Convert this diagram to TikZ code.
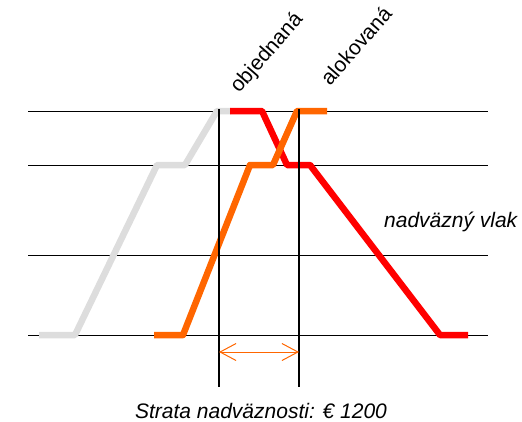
\documentclass[tikz,border=0pt]{standalone}
\usepackage{fontspec}
\setmainfont{Liberation Sans}
\usetikzlibrary{arrows.meta}
\definecolor{cgray}{HTML}{DDDDDD}
\definecolor{corange}{HTML}{FF6600}
\definecolor{cred}{HTML}{FF0000}
\tikzset{
  grid/.style={black,line width=1pt},
  vline/.style={black,line width=1.1pt},
  curve/.style={line width=6.5pt,line join=round},
  lbl/.style={font=\fontsize{21}{25}\selectfont,inner sep=0pt},
  ilbl/.style={lbl,font=\fontsize{21}{25}\selectfont\itshape},
}
\begin{document}
\begin{tikzpicture}[x=1pt,y=-1pt]
\useasboundingbox (0,0) rectangle (522,421);
% horizontal lines
\coordinate (h1l) at (28,111); \coordinate (h1r) at (488,111);
\coordinate (h2l) at (28,165); \coordinate (h2r) at (488,165);
\coordinate (h3l) at (28,255); \coordinate (h3r) at (488,255);
\coordinate (h4l) at (28,335); \coordinate (h4r) at (488,335);
\draw[grid] (h1l) -- (h1r);
\draw[grid] (h2l) -- (h2r);
\draw[grid] (h3l) -- (h3r);
\draw[grid] (h4l) -- (h4r);
% gray
\draw[curve,cgray] (39,335) -- (75,335) -- (157,165) -- (185,165) -- (217,111) -- (231,111);
% red
\draw[curve,cred] (230,111) -- (262,111) -- (287,165) -- (310,165) -- (440,335) -- (468,335);
% orange
\draw[curve,corange] (154,335) -- (183,335) -- (250,165) -- (273,165) -- (297,111) -- (327,111);
% vertical lines
\coordinate (v1t) at (219,109); \coordinate (v1b) at (219,387);
\coordinate (v2t) at (299,109); \coordinate (v2b) at (299,387);
\draw[vline] (v1t) -- (v1b);
\draw[vline] (v2t) -- (v2b);
% arrow
\coordinate (a1) at (219,352); \coordinate (a2) at (299,352);
\draw[corange,line width=1pt,{Straight Barb[length=16pt,width=17pt]}-{Straight Barb[length=16pt,width=17pt]}] (a1) -- (a2);
% labels
\node[lbl,rotate=49,anchor=base west] (obj) at (239,94) {objednaná};
\node[lbl,rotate=49,anchor=base west] (alo) at (330,87) {alokovaná};
\node[ilbl,anchor=base west] (nv) at (384,227) {nadväzný vlak};
\node[ilbl,anchor=base] (st) at (261,418) {Strata nadväznosti: € 1200};
\end{tikzpicture}
\end{document}
